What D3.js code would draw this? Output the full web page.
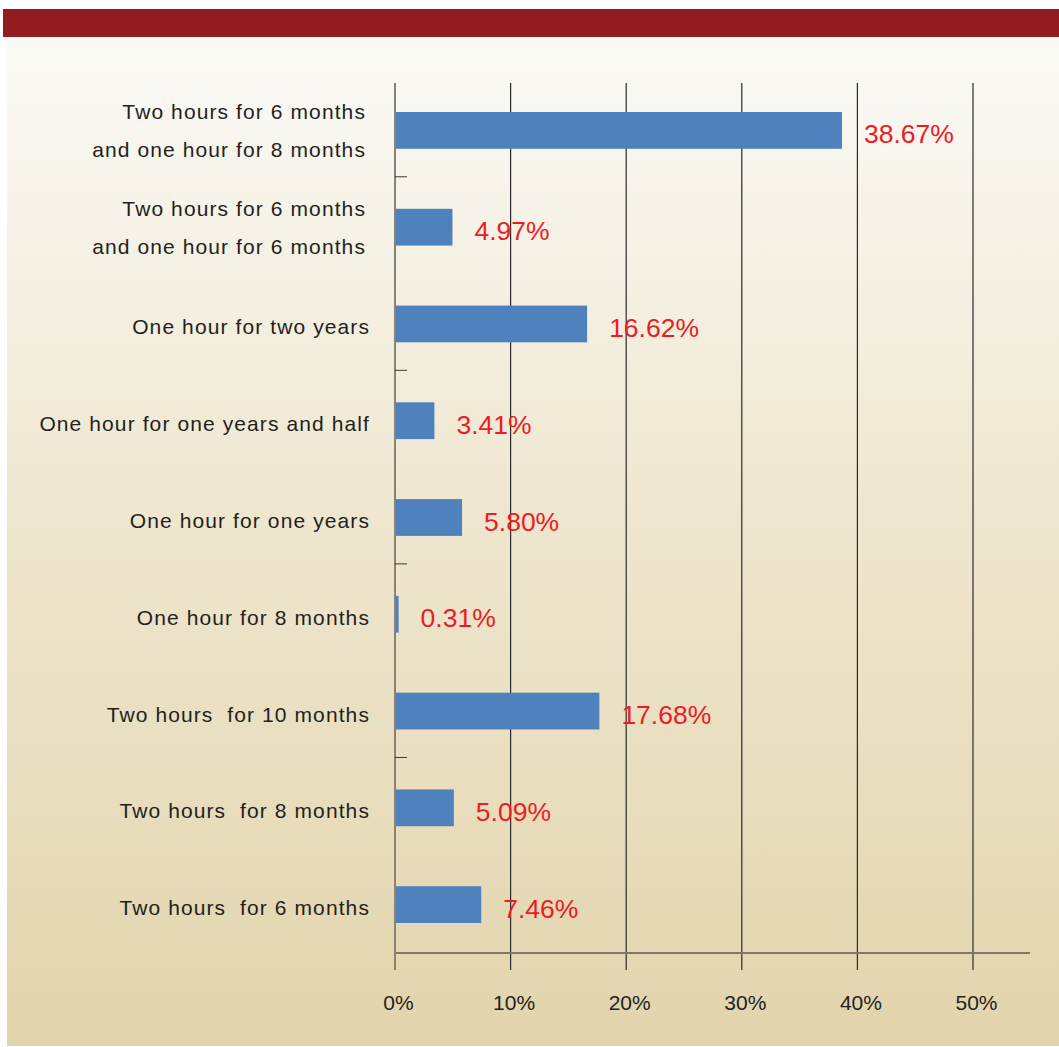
<!DOCTYPE html>
<html>
<head>
<meta charset="utf-8">
<script src="https://cdn.jsdelivr.net/npm/d3@7"></script>
<style>
  html, body { margin: 0; padding: 0; background: #ffffff; }
  svg { display: block; }
  text { font-family: "Liberation Sans", Arial, Helvetica, sans-serif; }
</style>
</head>
<body>
<svg id="chart" width="1059" height="1047"></svg>
<script>
// Categories (top to bottom); "\n" splits a label onto two lines
const categories = [
  "Two hours for 6 months\nand one hour for 8 months",
  "Two hours for 6 months\nand one hour for 6 months",
  "One hour for two years",
  "One hour for one years and half",
  "One hour for one years",
  "One hour for 8 months",
  "Two hours  for 10 months",
  "Two hours  for 8 months",
  "Two hours  for 6 months"
];
const values = [38.67, 4.97, 16.62, 3.41, 5.80, 0.31, 17.68, 5.09, 7.46];
const valueLabels = ["38.67%", "4.97%", "16.62%", "3.41%", "5.80%", "0.31%", "17.68%", "5.09%", "7.46%"];
const xTicks = [0, 10, 20, 30, 40, 50];
const xTickLabels = ["0%", "10%", "20%", "30%", "40%", "50%"];

const svg = d3.select("#chart");
const W = 1059, H = 1047;

// Background panel with warm vertical gradient
const defs = svg.append("defs");
const grad = defs.append("linearGradient")
  .attr("id", "panelGrad").attr("x1", 0).attr("y1", 0).attr("x2", 0).attr("y2", 1);
grad.append("stop").attr("offset", "0%").attr("stop-color", "#fbfaf7");
grad.append("stop").attr("offset", "45%").attr("stop-color", "#efe7d1");
grad.append("stop").attr("offset", "100%").attr("stop-color", "#e2d4ac");

svg.append("rect").attr("x", 7).attr("y", 37).attr("width", W - 7).attr("height", 1046 - 37)
  .attr("fill", "url(#panelGrad)");

// Header band
svg.append("rect").attr("x", 3).attr("y", 9).attr("width", W - 3).attr("height", 28)
  .attr("fill", "#931c20");

// Scales
const x = d3.scaleLinear().domain([0, 50]).range([395, 973]);
const y = d3.scaleBand().domain(categories).range([82, 953]).paddingInner(0.62).paddingOuter(0.31);

const plotTop = 83, axisY = 953, tickBottom = 970;

// Vertical gridlines at 10%..50%
svg.append("g").selectAll("line")
  .data(xTicks.filter(d => d > 0))
  .join("line")
  .attr("x1", d => x(d)).attr("x2", d => x(d))
  .attr("y1", plotTop).attr("y2", tickBottom)
  .attr("stroke", "#2b2b2b").attr("stroke-width", 1.2);

// Bottom axis line
svg.append("line")
  .attr("x1", x(0)).attr("x2", 1030).attr("y1", axisY).attr("y2", axisY)
  .attr("stroke", "#807868").attr("stroke-width", 2);

// X tick labels via d3 axis (no domain or tick lines; lines drawn above)
const xAxis = d3.axisBottom(x)
  .tickValues(xTicks)
  .tickFormat((d, i) => xTickLabels[i])
  .tickSize(0)
  .tickPadding(0);
const gx = svg.append("g").attr("transform", `translate(0, ${axisY})`).call(xAxis);
gx.select(".domain").remove();
gx.selectAll("text")
  .attr("y", 0).attr("dy", 0)
  .attr("transform", "translate(3, 57)")
  .attr("font-size", 21)
  .attr("fill", "#231f20")
  .attr("font-family", "Liberation Sans, Arial, sans-serif");

// Bars
svg.append("g").selectAll("rect")
  .data(values)
  .join("rect")
  .attr("x", x(0))
  .attr("y", (d, i) => y(categories[i]))
  .attr("width", d => x(d) - x(0))
  .attr("height", y.bandwidth())
  .attr("fill", "#4f81bd");

// Left axis line
svg.append("line")
  .attr("x1", x(0)).attr("x2", x(0)).attr("y1", plotTop).attr("y2", tickBottom)
  .attr("stroke", "#8a8374").attr("stroke-width", 2);

// Minor ticks on left axis between every other pair of categories
const step = y.step();
const bandTop = y.range()[0];
const tickIdx = [1, 3, 5, 7];
svg.append("g").selectAll("line")
  .data(tickIdx)
  .join("line")
  .attr("x1", x(0)).attr("x2", x(0) + 12)
  .attr("y1", k => bandTop + k * step - 2).attr("y2", k => bandTop + k * step - 2)
  .attr("stroke", "#3a3a3a").attr("stroke-width", 1);

// Value labels
svg.append("g").selectAll("text")
  .data(values)
  .join("text")
  .attr("x", d => x(d) + 22)
  .attr("y", (d, i) => y(categories[i]) + y.bandwidth() / 2 + 4)
  .attr("dominant-baseline", "central")
  .attr("font-size", 26.5)
  .attr("fill", "#ed1c24")
  .text((d, i) => valueLabels[i]);

// Category labels
const catG = svg.append("g");
categories.forEach((c, i) => {
  const lines = c.split("\n");
  const cy = y(c) + y.bandwidth() / 2;
  const t = catG.append("text")
    .attr("text-anchor", "end")
    .attr("font-size", 21)
    .attr("letter-spacing", 1.1)
    .attr("fill", "#231f20")
    .style("white-space", "pre");
  if (lines.length === 1) {
    t.append("tspan").attr("x", 370).attr("y", cy + 3).attr("dominant-baseline", "central").text(lines[0]);
  } else {
    lines.forEach((ln, j) => {
      t.append("tspan").attr("x", 366).attr("y", cy + (j === 0 ? -19 : 19))
        .attr("dominant-baseline", "central").text(ln);
    });
  }
});
</script>
</body>
</html>
